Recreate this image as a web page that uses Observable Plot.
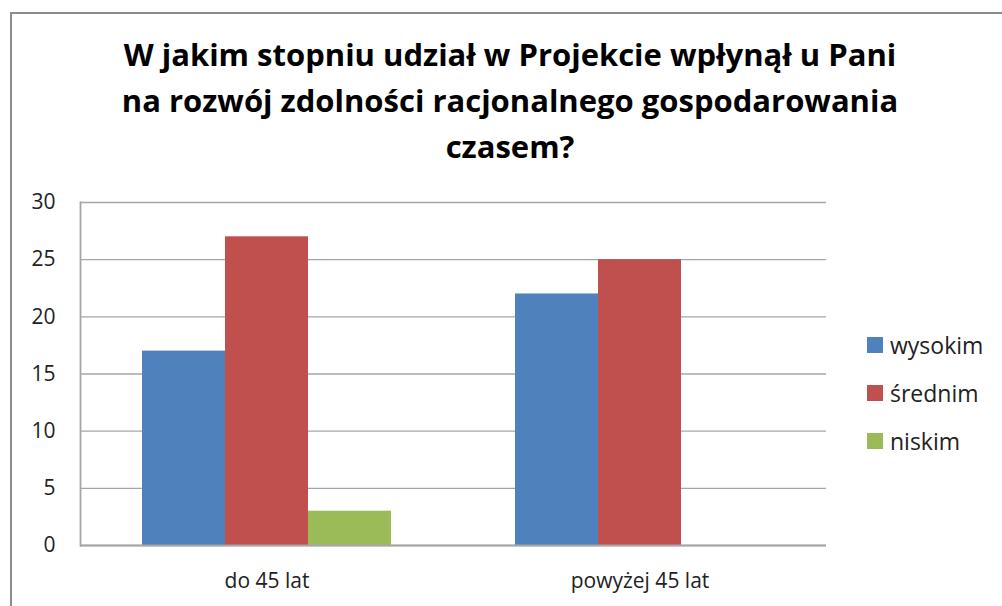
<!DOCTYPE html>
<html><head><meta charset="utf-8">
<script src="https://cdn.jsdelivr.net/npm/d3@7"></script>
<script src="https://cdn.jsdelivr.net/npm/@observablehq/plot@0.6"></script>
<style>
body{margin:0;background:#fff;font-family:"Open Sans",sans-serif;}
#wrap{position:relative;width:1002px;height:606px;overflow:hidden;background:#fff}
#frame{position:absolute;left:10px;top:12px;width:1100px;height:700px;border:2px solid #8c8c8c;box-sizing:border-box}
#chart{position:absolute;left:0;top:0}
#title{position:absolute;left:0;width:1020px;top:31px;text-align:center;font-weight:bold;font-size:31px;line-height:46px;color:#000}
#legend{position:absolute;left:867px;top:321px;font-size:23px;color:#222}
#legend .row{display:flex;align-items:center;height:48px}
#legend .sw{width:16px;height:16px;margin-right:7px}
</style></head>
<body>
<div id="wrap">
  <div id="frame"></div>
  <div id="chart"></div>
  <div id="title">W jakim stopniu udział w Projekcie wpłynął u Pani<br>na rozwój zdolności racjonalnego gospodarowania<br>czasem?</div>
  <div id="legend"></div>
</div>
<script>
const categories = ["do 45 lat", "powyżej 45 lat"];
const series = ["wysokim", "średnim", "niskim"];
const wysokim = [17, 22];
const srednim = [27, 25];
const niskim = [3, 0];
const colors = ["#4f81bd", "#c0504d", "#9bbb59"];
const yTicks = [0, 5, 10, 15, 20, 25, 30];

const valuesBySeries = [wysokim, srednim, niskim];
const data = [];
categories.forEach((c, i) => series.forEach((s, j) => data.push({category: c, series: s, value: valuesBySeries[j][i]})));

const chart = Plot.plot({
  width: 1002,
  height: 606,
  marginTop: 202,
  marginBottom: 61,
  marginLeft: 79,
  marginRight: 176,
  style: {fontFamily: "'Open Sans', sans-serif", fontSize: "21px", color: "#222", background: "transparent"},
  fx: {domain: categories, padding: 0, label: null},
  x: {domain: series, paddingInner: 0, paddingOuter: 0.74, axis: null},
  y: {domain: [0, 30], label: null},
  color: {domain: series, range: colors},
  marks: [
    Plot.gridY(yTicks, {stroke: "#a6a6a6", strokeOpacity: 1, strokeWidth: 1.3}),
    Plot.barY(data, {fx: "category", x: "series", y: "value", fill: "series"}),
    Plot.ruleY([0], {stroke: "#a6a6a6", strokeWidth: 1.8}),
    Plot.frame({anchor: "left", facetAnchor: "left", stroke: "#a6a6a6", strokeWidth: 1.8}),
    Plot.axisY(yTicks, {tickSize: 0, tickPadding: 25, fontSize: 21, label: null}),
    Plot.axisFx({anchor: "bottom", tickSize: 0, tickPadding: 28, fontSize: 21, label: null})
  ]
});
document.getElementById("chart").appendChild(chart);

const legend = document.getElementById("legend");
series.forEach((s, j) => {
  const row = document.createElement("div");
  row.className = "row";
  const sw = document.createElement("div");
  sw.className = "sw";
  sw.style.background = colors[j];
  const t = document.createElement("span");
  t.textContent = s;
  row.appendChild(sw);
  row.appendChild(t);
  legend.appendChild(row);
});
</script>
</body></html>
